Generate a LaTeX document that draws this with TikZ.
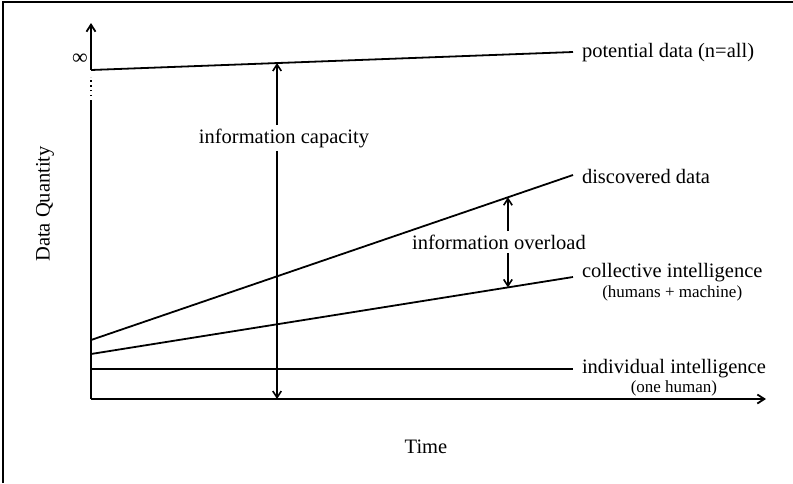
\documentclass[tikz,border=0pt]{standalone}
\usepackage{fontspec}
\setmainfont{Liberation Serif}
\usetikzlibrary{arrows.meta}
\begin{document}
\begin{tikzpicture}[x=1pt,y=-1pt,
  every node/.style={inner sep=0pt, outer sep=0pt},
  lbl/.style={font=\fontsize{20.5}{24}\selectfont, anchor=base west},
  sublbl/.style={font=\fontsize{17}{20}\selectfont, anchor=base},
  mid/.style={font=\fontsize{20.5}{24}\selectfont, inner sep=3.5pt},
  ttl/.style={font=\fontsize{20.5}{24}\selectfont},
  curve/.style={line width=1.8pt},
  axis/.style={line width=1.8pt, -{Straight Barb[length=7pt,width=9pt]}},
  dim/.style={line width=1.6pt, -{Straight Barb[length=6.5pt,width=8.5pt]}},
]
\useasboundingbox (0,0) rectangle (793,483);
\draw[line width=1.6pt] (3,483) -- (3,2) -- (793,2);
% coordinates
\coordinate (O) at (91,399);
\coordinate (ytop) at (91,23);
\coordinate (xend) at (766,399);
\coordinate (p0) at (91,70);  \coordinate (p1) at (573,52);
\coordinate (d0) at (91,340); \coordinate (d1) at (573,175);
\coordinate (c0) at (91,354); \coordinate (c1) at (573,277);
\coordinate (i0) at (91,369); \coordinate (i1) at (573,369);
\coordinate (dotA) at (91,77); \coordinate (dotB) at (91,101);
% axes
\draw[axis] (O) -- (xend);
\draw[line width=1.8pt] (O) -- (dotB);
\draw[line width=1.8pt, dash pattern=on 1.5pt off 3.3pt] (dotB) -- (dotA);
\draw[axis] (p0) -- (ytop);
% curves
\draw[curve] (p0) -- (p1) coordinate[pos=0.386] (pCap);
\draw[curve] (d0) -- (d1) coordinate[pos=0.865] (dOver);
\draw[curve] (c0) -- (c1) coordinate[pos=0.865] (cOver);
\draw[curve] (i0) -- (i1);
\coordinate (xCap) at (pCap |- O);
% labels
\node[lbl] (pot) at (582,57) {potential data (n=all)};
\node[lbl] (disc) at (582,183) {discovered data};
\node[lbl] (coll) at (582,277) {collective intelligence};
\node[sublbl] (collsub) at ([yshift=-20pt]coll.base) {(humans + machine)};
\node[lbl] (ind) at (582,373) {individual intelligence};
\node[sublbl] (indsub) at ([yshift=-19pt]ind.base) {(one human)};
% middle texts and arrows
\node[mid] (cap) at (284,138) {information capacity};
\node[mid] (over) at (499,242) {information overload};
\draw[dim] (cap.north -| pCap) -- (pCap);
\draw[dim] (cap.south -| pCap) -- (xCap);
\draw[dim] (over.north -| dOver) -- (dOver);
\draw[dim] (over.south -| cOver) -- (cOver);
% axis titles
\node[ttl, rotate=90] (yq) at (45,204) {Data Quantity};
\node[ttl, anchor=base] (time) at (426,453) {Time};
\node[font=\fontsize{22}{26}\selectfont] (inf) at (80,59) {∞};
\end{tikzpicture}
\end{document}
